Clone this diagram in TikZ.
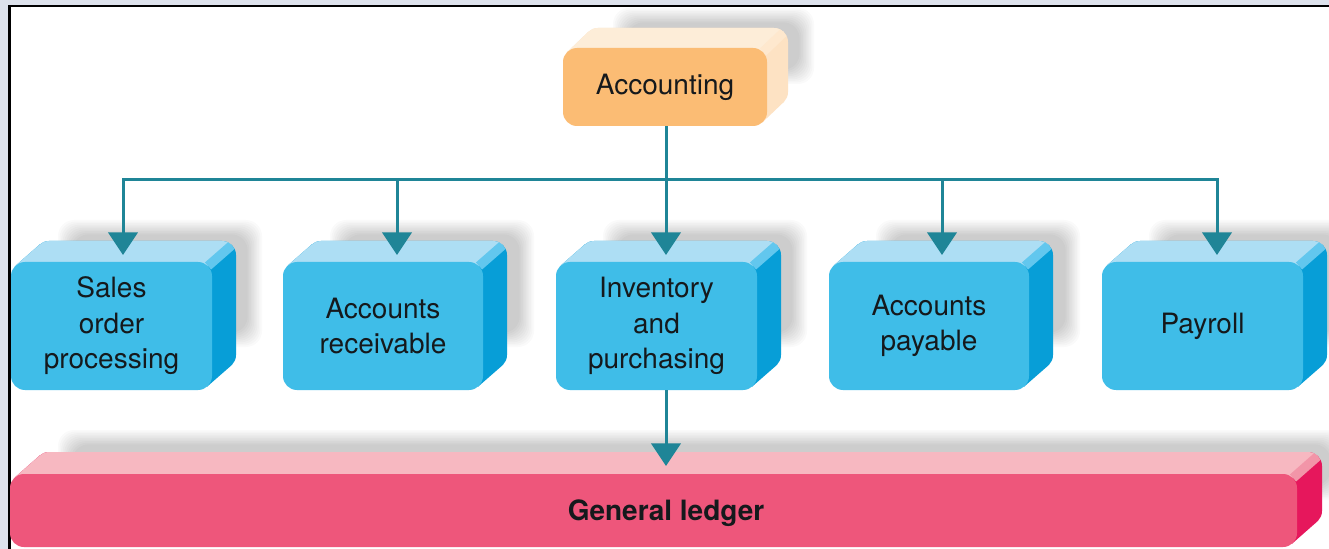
\documentclass[tikz,border=0pt]{standalone}
\usepackage{fontspec}
\setmainfont{TeX Gyre Heros}
\usetikzlibrary{arrows.meta}

\definecolor{pagebg}{HTML}{DDE2EC}
\definecolor{bluefront}{HTML}{3FBDE8}
\definecolor{bluetop}{HTML}{ADDEF4}
\definecolor{blueside}{HTML}{079ED7}
\definecolor{bluebevel}{HTML}{62C7EE}
\definecolor{orangefront}{HTML}{FBBC74}
\definecolor{orangetop}{HTML}{FDEDD8}
\definecolor{orangeside}{HTML}{FDE2C3}
\definecolor{orangebevel}{HTML}{FEE8CE}
\definecolor{pinkfront}{HTML}{EE567B}
\definecolor{pinktop}{HTML}{F7B8C1}
\definecolor{pinkside}{HTML}{E6175C}
\definecolor{pinkbevel}{HTML}{F295A8}
\definecolor{linkteal}{HTML}{1F8597}
\definecolor{ink}{HTML}{15191C}

% soft drop shadow: stacked translucent rounded rectangles
\newcommand\softshadow[4]{%
  \foreach \i in {0,...,9} {
    \fill[black, opacity=0.021, rounded corners=12pt]
      ({#1+1.6*\i},{#2+1.6*\i}) rectangle ({#3-1.6*\i},{#4-1.6*\i});
  }}

% extruded block: #1 name, #2 x1, #3 y1, #4 x2, #5 y2 (front face),
% #6 colour family, #7 depth to the right, #8 rise, #9 label
\newcommand\solidbox[9]{%
  \pgfmathsetmacro\ua{#7/sqrt(#7*#7+#8*#8)}%
  \pgfmathsetmacro\ub{#8/sqrt(#7*#7+#8*#8)}%
  % tangent points on the front corners (top-left, bottom-right)
  \pgfmathsetmacro\pxa{#2+14-14*\ub}\pgfmathsetmacro\pya{#3+14-14*\ua}%
  \pgfmathsetmacro\pxb{#4-14+14*\ub}\pgfmathsetmacro\pyb{#5-14+14*\ua}%
  % edge between top face and side face
  \pgfmathsetmacro\cx{#4-4}\pgfmathsetmacro\cy{#3+4}%
  % side face colour under everything
  \fill[#6side, rounded corners=10.5pt] ({#2+#7},{#3-#8}) rectangle ({#4+#7},{#5-#8});
  \fill[#6side] (\pxa,\pya) -- ({\pxa+#7},{\pya-#8}) -- ({\pxb+#7},{\pyb-#8}) -- (\pxb,\pyb) -- cycle;
  % top face: the part above the top-right edge
  \begin{scope}
    \clip ({\cx+60*#7},{\cy-60*#8}) -- ({\cx-60*#7},{\cy+60*#8})
      -- ({\cx-60*#7-2000*\ub},{\cy+60*#8-2000*\ua})
      -- ({\cx+60*#7-2000*\ub},{\cy-60*#8-2000*\ua}) -- cycle;
    \fill[#6top, rounded corners=10.5pt] ({#2+#7},{#3-#8}) rectangle ({#4+#7},{#5-#8});
    \fill[#6top] (\pxa,\pya) -- ({\pxa+#7},{\pya-#8}) -- ({\pxb+#7},{\pyb-#8}) -- (\pxb,\pyb) -- cycle;
  \end{scope}
  % bevelled top-right edge
  \begin{scope}
    \clip[rounded corners=10.5pt] ({#2+#7},{#3-#8}) rectangle ({#4+#7},{#5-#8});
    \draw[#6bevel, line width=7pt] (\cx,\cy) -- ({\cx+#7},{\cy-#8});
  \end{scope}
  \begin{scope}
    \clip (\pxa,\pya) -- ({\pxa+#7},{\pya-#8}) -- ({\pxb+#7},{\pyb-#8}) -- (\pxb,\pyb) -- cycle;
    \draw[#6bevel, line width=7pt] (\cx,\cy) -- ({\cx+#7},{\cy-#8});
  \end{scope}
  % front face
  \node[facebox, fill=#6front,
        minimum width={0.75pt*(#4-#2)}, minimum height={0.75pt*(#5-#3)}]
    (#1) at ({(#2+#4)/2},{(#3+#5)/2}) {#9};
}

\tikzset{
  facebox/.style={rectangle, rounded corners=10.5pt, inner sep=0pt,
    align=center, text=ink, font=\fontsize{21}{26.6}\selectfont},
  conn/.style={draw=linkteal, line width=2.25pt,
    -{Triangle[length=17pt, width=22pt]}},
}

\begin{document}
\begin{tikzpicture}[x=0.75pt, y=-0.75pt]
  \useasboundingbox (0,0) rectangle (1329,549);

  % page and frame
  \fill[pagebg] (0,0) rectangle (1329,549);
  \fill[white] (9,6) rectangle (1340,560);
  \draw[black, line width=1.9pt] (9.3,560) -- (9.3,6) -- (1340,6);

  % shadows
  \softshadow{613}{8}{814}{84}
  \foreach \L in {11,283,556,829,1102} {
    \softshadow{\L+47}{220}{\L+251}{347}
  }
  \softshadow{58}{430}{1345}{500}

  % top block
  \solidbox{acc}{563}{48}{767}{126}{orange}{21}{20}{Accounting}

  % subsystem blocks
  \solidbox{sales}{11}{262}{212}{390}{blue}{24}{21}{Sales\\order\\processing}
  \solidbox{recv}{283}{262}{483}{390}{blue}{24}{21}{Accounts\\receivable}
  \solidbox{inv}{556}{262}{757}{390}{blue}{24}{21}{Inventory\\and\\purchasing}
  \solidbox{pay}{829}{262}{1029}{390}{blue}{24}{21}{Accounts\\payable}
  \solidbox{payroll}{1102}{262}{1303}{390}{blue}{24}{21}{Payroll}

  % ledger bar
  \solidbox{ledger}{10}{474}{1297}{547}{pink}{25}{22}{}
  \node[text=ink, font=\bfseries\fontsize{21}{26}\selectfont]
    (ledgerlabel) at (666,513) {General ledger};

  % arrow targets on the top faces
  \coordinate (bus) at (666,180);
  \coordinate (t1) at (123,255);
  \coordinate (t2) at (397,255);
  \coordinate (t3) at (666,255);
  \coordinate (t4) at (942,255);
  \coordinate (t5) at (1217,255);
  \coordinate (lt) at (666,466);

  % connectors
  \draw[conn] (t3 |- acc.south) -- (t3);
  \draw[conn] (bus) -| (t1);
  \draw[conn] (bus) -| (t2);
  \draw[conn] (bus) -| (t4);
  \draw[conn] (bus) -| (t5);
  \draw[conn] (lt |- inv.south) -- (lt);
\end{tikzpicture}
\end{document}
